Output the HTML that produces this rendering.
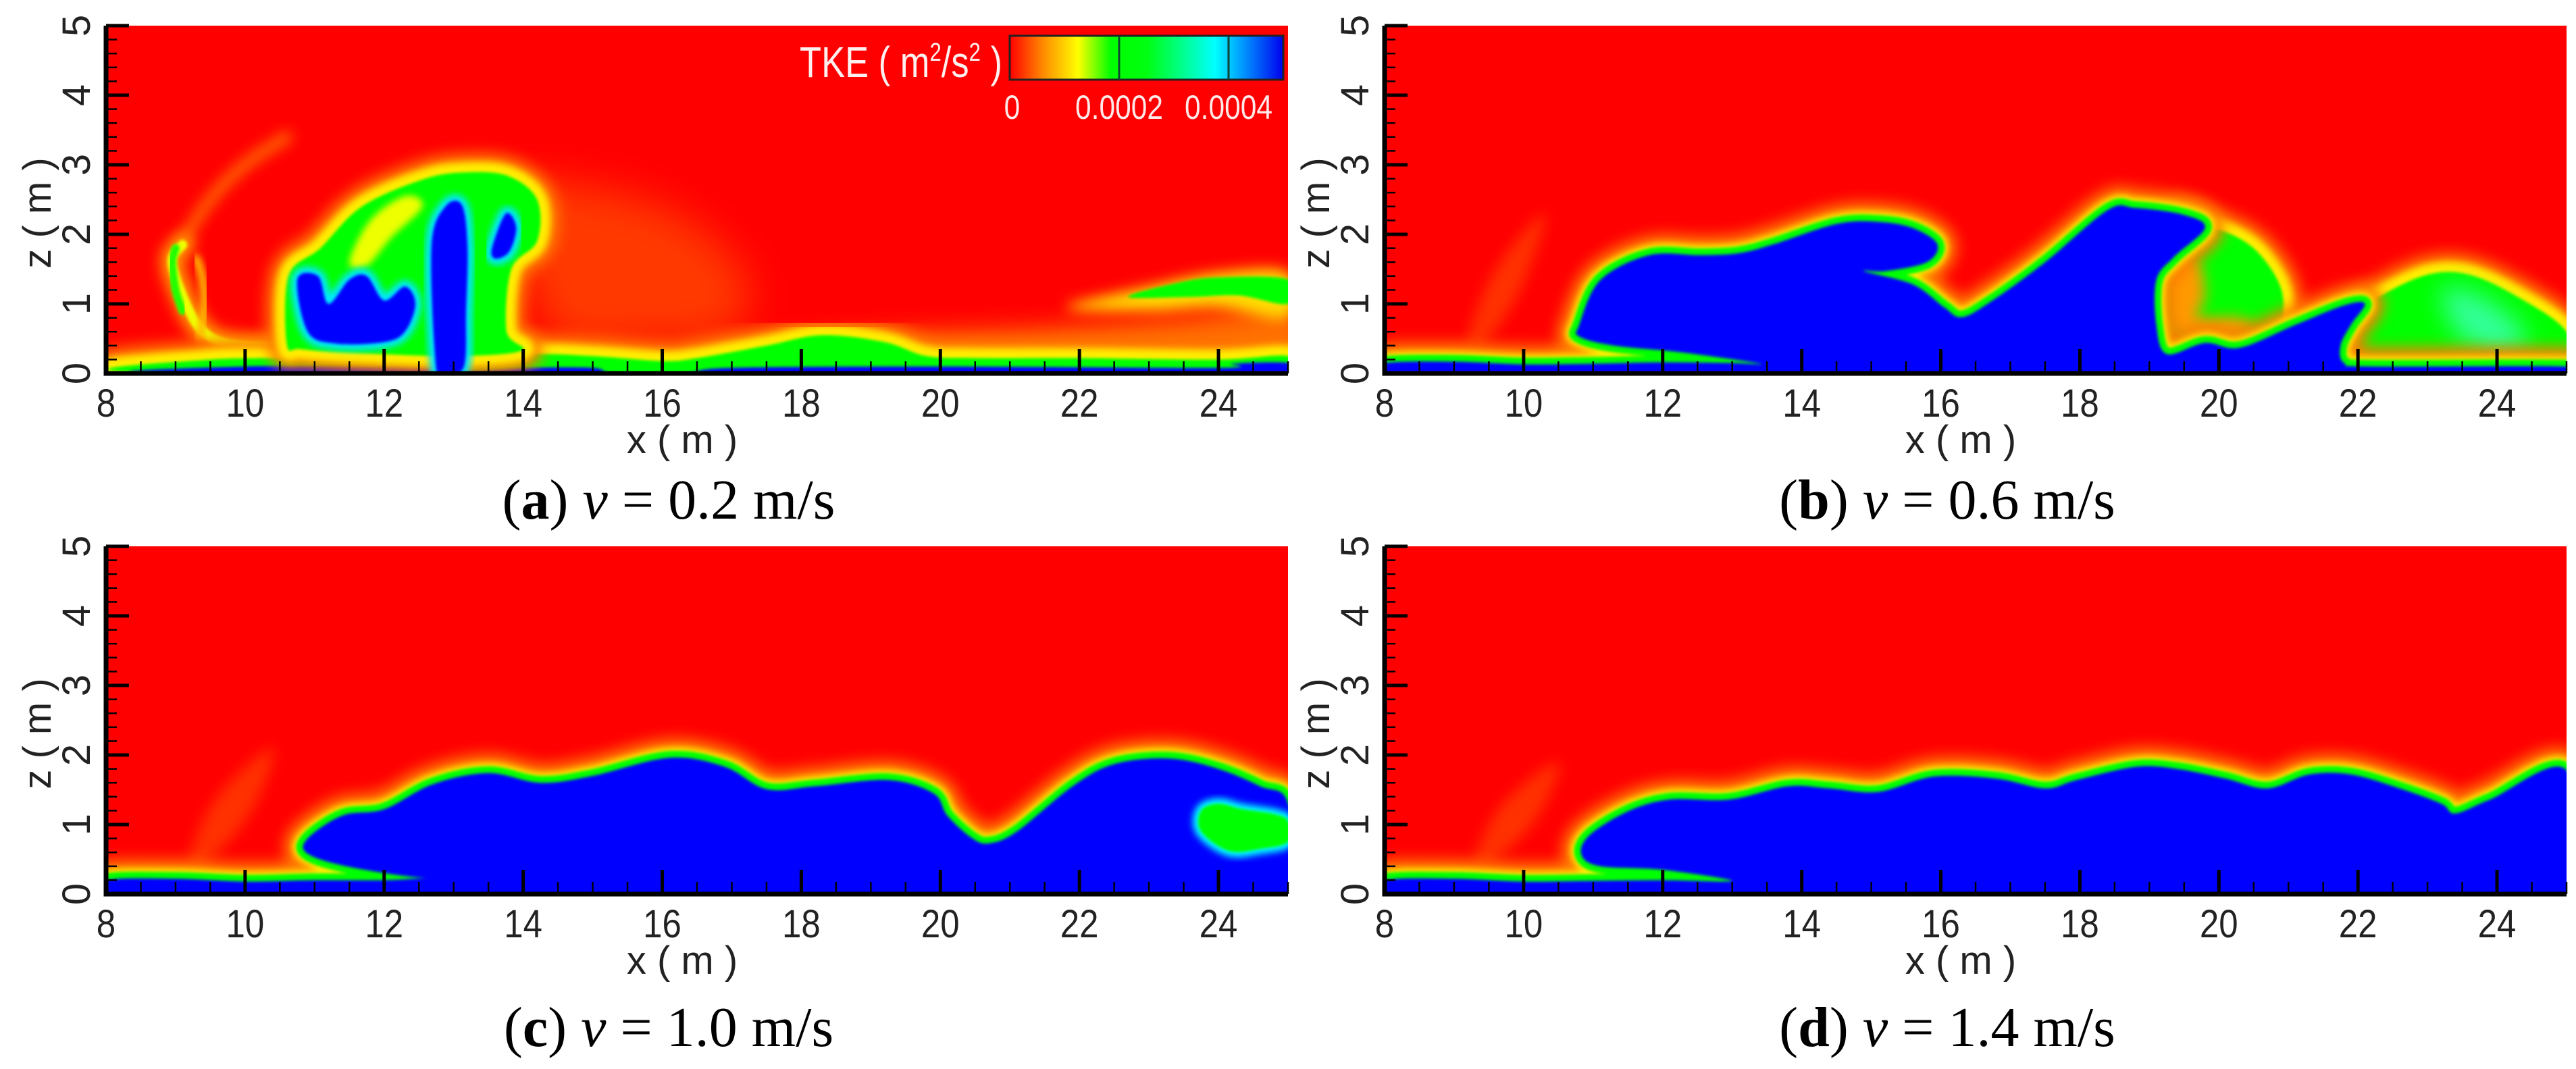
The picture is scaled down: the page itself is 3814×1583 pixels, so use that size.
<!DOCTYPE html>
<html>
<head>
<meta charset="utf-8">
<style>
html,body{margin:0;padding:0;background:#fff;}
svg{display:block;}
.tick{font-family:"Liberation Sans",Arial,sans-serif;font-size:58px;fill:#222;}
.cap{font-family:"Liberation Serif","Times New Roman",serif;font-size:84px;fill:#000;}
</style>
</head>
<body>
<svg id="fig" xmlns="http://www.w3.org/2000/svg" width="3814" height="1583" viewBox="0 0 3814 1583">
<defs>
<filter id="b2" x="-20%" y="-20%" width="140%" height="140%"><feGaussianBlur stdDeviation="2"/></filter>
<filter id="b5" x="-20%" y="-20%" width="140%" height="140%"><feGaussianBlur stdDeviation="5"/></filter>
<filter id="b10" x="-30%" y="-30%" width="160%" height="160%"><feGaussianBlur stdDeviation="10"/></filter>
<filter id="b18" x="-40%" y="-40%" width="180%" height="180%"><feGaussianBlur stdDeviation="18"/></filter>
<filter id="b30" x="-50%" y="-50%" width="200%" height="200%"><feGaussianBlur stdDeviation="30"/></filter>
<linearGradient id="cbgrad" x1="0" y1="0" x2="1" y2="0">
<stop offset="0" stop-color="#ff0000"/>
<stop offset="0.12" stop-color="#ff8800"/>
<stop offset="0.25" stop-color="#ffff00"/>
<stop offset="0.37" stop-color="#00ff00"/>
<stop offset="0.5" stop-color="#00ff10"/>
<stop offset="0.75" stop-color="#00ffff"/>
<stop offset="0.85" stop-color="#0099ff"/>
<stop offset="1" stop-color="#0000ee"/>
</linearGradient>
</defs>
</svg>
<script>
// ---------- data ----------
const xTicks = [8,10,12,14,16,18,20,22,24];
const zTicks = [0,1,2,3,4,5];
const cbTicks = [0,0.0002,0.0004];
const cbLabels = ["0","0.0002","0.0004"];
const captionLetters = ["a","b","c","d"];
const captionSpeeds = ["0.2","0.6","1.0","1.4"];

// panel (a) features
const aGlowX = [13.9,14.8,16.2,17.2,17.0,15.8,14.4];
const aGlowZ = [2.6,2.7,2.3,1.4,0.6,0.45,0.6];
const aLoopX = [10.6,9.8,9.4,9.15,8.95,9.1];
const aLoopZ = [0.38,0.42,0.6,1.0,1.6,1.85];
const aLoopGreenX = [9.1,9.0,8.95,9.0];
const aLoopGreenZ = [0.9,1.2,1.6,1.8];
const aArcX = [9.1,9.5,10.0,10.6];
const aArcZ = [1.9,2.5,3.0,3.4];
const aInnerX = [9.35,9.42,9.38,9.3];
const aInnerZ = [0.55,1.0,1.4,1.65];
const aBandX = [9.4,10.5,11.5,12.3,12.3,11.2,10.0,9.5];
const aBandZ = [0.2,0.22,0.22,0.25,0.4,0.38,0.4,0.35];
const aPlumeX = [10.6,10.63,11.08,11.68,12.56,13.16,13.78,14.2,14.2,13.83,13.76,13.98,13.0,11.5,10.8];
const aPlumeZ = [0.42,1.41,1.8,2.4,2.79,2.89,2.84,2.5,1.9,1.5,0.61,0.33,0.25,0.3,0.35];
const aStreakX = [11.5,11.8,12.3,12.55,12.1,11.75];
const aStreakZ = [1.6,2.2,2.55,2.4,1.95,1.55];
const aBlobX = [10.75,11.05,11.2,11.5,11.75,12.0,12.3,12.45,12.3,12.0,11.3,10.9];
const aBlobZ = [1.35,1.4,1.0,1.35,1.4,1.05,1.25,1.0,0.6,0.45,0.43,0.6];
const aStemX = [12.75,12.68,12.88,13.12,13.2,13.18,13.15,12.9];
const aStemZ = [0.05,1.82,2.4,2.42,1.82,0.9,0.1,0.0];
const aEyeX = [13.55,13.75,13.9,13.8,13.6];
const aEyeZ = [1.8,2.3,2.1,1.75,1.65];
const aFloorX = [9.2,9.5,12,14,15,16,16.5,17.5,18.3,19.2,19.8,20.5,22,24,25,25];
const aFloorZ = [0,0.2,0.22,0.28,0.25,0.18,0.22,0.4,0.55,0.45,0.25,0.22,0.22,0.2,0.25,0];
const aBedX = [9.4,10,12.5,12.7,13.3,14,15,15.3,16.3,17,20,24,24.2,25,25];
const aBedZ = [0,0.1,0.1,0.04,0.04,0.08,0.08,0,0,0.08,0.1,0.08,0.14,0.15,0];
const aLowX = [16.5,19,21.5,23.5,25,25,21,17];
const aLowZ = [0.35,0.55,0.65,0.8,0.95,0.25,0.25,0.25];
const aWakeX = [21.8,23,24,25,25,24,23];
const aWakeZ = [0.95,1.25,1.45,1.45,0.8,0.95,0.9];
const aBandGX = [22.7,23.4,24,25,25,24.3,23.6];
const aBandGZ = [1.1,1.3,1.38,1.35,1.0,1.12,1.1];

// panel (b)
const bFaintX = [9.2,9.6,10.3,10.0,9.5];
const bFaintZ = [0.5,1.5,2.3,1.3,0.5];
const bBodyX = [8,8,9,10,11,12,13.0,13.4,12.3,11.3,10.8,10.8,11.1,11.8,12.55,13.1,13.6,14.5,15.1,15.6,15.95,15.8,15.2,14.9,15.6,16.05,16.3,16.7,17.5,18.4,18.8,19.5,19.8,19.35,19.1,19.1,19.25,19.8,20.3,21.1,21.8,22.1,21.9,21.75,21.8,22.2,25,25];
const bBodyZ = [0,0.15,0.17,0.13,0.14,0.16,0.15,0.14,0.3,0.4,0.53,0.7,1.34,1.7,1.7,1.73,1.86,2.15,2.18,2.09,1.86,1.6,1.47,1.47,1.28,0.95,0.81,1.02,1.6,2.35,2.38,2.28,2.09,1.67,1.34,0.7,0.28,0.44,0.37,0.7,0.98,1.0,0.7,0.4,0.15,0.1,0.1,0];
const bRingX = [19.3,19.9,20.5,20.9,20.85,20.4,19.6,19.2];
const bRingZ = [2.15,2.1,1.8,1.2,0.6,0.42,0.45,0.6];
const bCoreX = [19.25,19.7,19.8,19.7,20.3,20.5,19.6,19.25];
const bCoreZ = [1.7,1.6,1.1,0.8,0.8,0.55,0.5,0.7];
const bDomeX = [21.7,21.75,22.3,23.0,23.6,24.3,25,25,22.2];
const bDomeZ = [0.3,0.7,1.1,1.42,1.42,1.1,0.6,0.05,0.05];
const bCyanX = [23.2,23.8,24.4,24.2,23.5];
const bCyanZ = [1.2,1.1,0.6,0.3,0.5];

// panel (c)
const cFaintX = [9.2,9.6,10.4,10.1,9.5];
const cFaintZ = [0.5,1.4,2.1,1.2,0.5];
const cBodyX = [8,8,9,10,11,12,12.6,13.4,12.6,11.5,10.9,10.9,11.4,12.0,12.7,13.5,14.25,15.0,16.1,16.9,17.5,18.2,19.25,19.9,20.1,20.45,20.7,21.1,21.9,22.5,23.3,24.0,24.6,25,25];
const cBodyZ = [0,0.2,0.22,0.18,0.2,0.2,0.23,0.26,0.23,0.39,0.58,0.8,1.13,1.22,1.58,1.74,1.6,1.7,1.96,1.83,1.51,1.55,1.64,1.45,1.13,0.81,0.73,0.9,1.55,1.87,1.95,1.8,1.55,1.3,0];
const cCurlX = [23.75,24.0,24.35,24.8,25,25,24.6,24.15,23.75];
const cCurlZ = [1.2,1.3,1.22,1.15,1.05,0.75,0.65,0.62,0.9];

// panel (d)
const dFaintX = [9.3,9.7,10.5,10.2,9.6];
const dFaintZ = [0.5,1.3,1.9,1.1,0.5];
const dBodyX = [8,8,9,10,11,12,13.0,12.0,11.1,10.83,10.95,11.5,12.1,12.96,13.8,14.4,15.1,15.9,16.8,17.5,17.95,18.8,19.4,20.1,20.7,21.3,21.9,22.6,23.2,23.4,23.9,25,25];
const dBodyZ = [0,0.2,0.22,0.18,0.19,0.2,0.19,0.35,0.4,0.57,0.85,1.19,1.36,1.36,1.55,1.52,1.47,1.69,1.66,1.52,1.64,1.83,1.8,1.66,1.52,1.72,1.72,1.52,1.3,1.16,1.36,1.78,0];

// ---------- layout ----------
const svg = document.getElementById('fig');
const NS = 'http://www.w3.org/2000/svg';
const PW = 1750, PH = 515;
const panels = [{id:'a',left:157,top:38,cap:990,capY:768},{id:'b',left:2050,top:38,cap:2883,capY:768},{id:'c',left:157,top:809,cap:990,capY:1549},{id:'d',left:2050,top:809,cap:2883,capY:1549}];

function mk(tag, attrs, parent){
  const e = document.createElementNS(NS, tag);
  for (const k in attrs) e.setAttribute(k, attrs[k]);
  (parent||svg).appendChild(e);
  return e;
}
function scales(p){
  return {sx: x => p.left + (x-8)/17*PW, sz: z => p.top + PH - z/5*PH};
}
function smoothPath(xs, zs, s, closed){
  const pts = xs.map((x,i)=>[s.sx(x), s.sz(zs[i])]);
  const n = pts.length;
  const get = i => closed ? pts[(i+n)%n] : pts[Math.max(0,Math.min(n-1,i))];
  let d = 'M'+pts[0][0].toFixed(1)+','+pts[0][1].toFixed(1);
  const last = closed ? n : n-1;
  for (let i=0;i<last;i++){
    const p0=get(i-1),p1=get(i),p2=get(i+1),p3=get(i+2);
    const c1=[p1[0]+(p2[0]-p0[0])/6, p1[1]+(p2[1]-p0[1])/6];
    const c2=[p2[0]-(p3[0]-p1[0])/6, p2[1]-(p3[1]-p1[1])/6];
    d += 'C'+c1[0].toFixed(1)+','+c1[1].toFixed(1)+' '+c2[0].toFixed(1)+','+c2[1].toFixed(1)+' '+p2[0].toFixed(1)+','+p2[1].toFixed(1);
  }
  if (closed) d += 'Z';
  return d;
}

function fillShape(g, xs, zs, s, color, filt, op, name){
  const e = mk('path', {d: smoothPath(xs,zs,s,true), fill: color, opacity: op||1}, g);
  if (filt) e.setAttribute('filter', 'url(#'+filt+')');
  
  
  return e;
}
function lineShape(g, xs, zs, s, color, w, filt, name){
  const e = mk('path', {d: smoothPath(xs,zs,s,false), fill:'none', stroke: color, 'stroke-width': w, 'stroke-linecap':'round'}, g);
  if (filt) e.setAttribute('filter', 'url(#'+filt+')');
  
  
  return e;
}
function haloShape(g, xs, zs, s, inner, name){
  const d = smoothPath(xs,zs,s,true);
  const h1 = mk('path', {d:d, fill:'#ff7a00', stroke:'#ff7a00', 'stroke-width':56, filter:'url(#b10)', 'stroke-linejoin':'round'}, g);
  
  
  const h2 = mk('path', {d:d, fill:'#ffee00', stroke:'#ffee00', 'stroke-width':30, filter:'url(#b5)', 'stroke-linejoin':'round'}, g);
  
  
  if (inner === 'blue'){
    const h3 = mk('path', {d:d, fill:'#00ff00', stroke:'#00ff00', 'stroke-width':20, filter:'url(#b2)', 'stroke-linejoin':'round'}, g);
    
    
    const f = mk('path', {d:d, fill:'#0000ff', filter:'url(#b2)'}, g);
    
    
  } else {
    const f = mk('path', {d:d, fill:'#00ff00', filter:'url(#b2)'}, g);
    
    
  }
}
function blueCore(g, xs, zs, s, name){
  const d = smoothPath(xs,zs,s,true);
  const c = mk('path', {d:d, fill:'#00ffff', stroke:'#00e8ff', 'stroke-width':18, filter:'url(#b5)'}, g);
  
  
  const f = mk('path', {d:d, fill:'#0000ff', filter:'url(#b2)'}, g);
  
  
}

panels.forEach((p, idx) => {
  const s = scales(p);
  const g = mk('g', {});
  
  
  const clip = mk('clipPath', {id:'clip'+p.id});
  mk('rect', {x:p.left, y:p.top, width:PW, height:PH}, clip);
  const field = mk('g', {'clip-path':'url(#clip'+p.id+')'}, g);
  
  
  const bg = mk('rect', {x:p.left, y:p.top, width:PW, height:PH, fill:'#ff0000'}, field);
  
  

  if (p.id === 'a'){
    fillShape(field, aGlowX, aGlowZ, s, '#ff6000', 'b30', 0.6, 'wake-glow');
    lineShape(field, aArcX, aArcZ, s, '#ff7000', 16, 'b10', 'left-loop-arc');
    lineShape(field, aLoopX, aLoopZ, s, '#ff9900', 34, 'b10', 'left-loop-halo');
    lineShape(field, aLoopX, aLoopZ, s, '#eeff00', 14, 'b2', 'left-loop');
    lineShape(field, aLoopGreenX, aLoopGreenZ, s, '#20ff00', 12, 'b2', 'left-loop-green');
    lineShape(field, aInnerX, aInnerZ, s, '#ffbb00', 12, 'b5', 'left-loop-inner');
    fillShape(field, aBandX, aBandZ, s, '#ffcc00', 'b5', 1, 'front-band');
    fillShape(field, aLowX, aLowZ, s, '#ff8800', 'b18', 0.8, 'downstream-low-layer');
    fillShape(field, aWakeX, aWakeZ, s, '#ffdd00', 'b10', 1, 'downstream-wake');
    fillShape(field, aBandGX, aBandGZ, s, '#00ff00', 'b2', 1, 'downstream-green-band');
    haloShape(field, aFloorX, aFloorZ, s, 'green', 'floor-layer');
    fillShape(field, aBedX, aBedZ, s, '#0000ff', 'b2', 1, 'bed-layer');
    haloShape(field, aPlumeX, aPlumeZ, s, 'green', 'plume-envelope');
    fillShape(field, aStreakX, aStreakZ, s, '#eeff00', 'b5', 1, 'plume-yellow-streak');
    blueCore(field, aBlobX, aBlobZ, s, 'plume-core-left');
    blueCore(field, aStemX, aStemZ, s, 'plume-stem');
    blueCore(field, aEyeX, aEyeZ, s, 'plume-eye');
  } else {
    const bodyX = p.id==='b'?bBodyX:(p.id==='c'?cBodyX:dBodyX);
    const bodyZ = p.id==='b'?bBodyZ:(p.id==='c'?cBodyZ:dBodyZ);
    const fx = p.id==='b'?bFaintX:(p.id==='c'?cFaintX:dFaintX);
    const fz = p.id==='b'?bFaintZ:(p.id==='c'?cFaintZ:dFaintZ);
    fillShape(field, fx, fz, s, '#ff5a00', 'b10', 0.55, 'faint-wake');
    if (p.id === 'b'){
      haloShape(field, bRingX, bRingZ, s, 'green', 'vortex-ring');
      fillShape(field, bCoreX, bCoreZ, s, '#ff9a00', 'b10', 1, 'vortex-core');
      haloShape(field, bDomeX, bDomeZ, s, 'green', 'head-dome');
      fillShape(field, bCyanX, bCyanZ, s, '#40ffc0', 'b18', 0.8, 'head-dome-cyan');
    }
    haloShape(field, bodyX, bodyZ, s, 'blue', 'gravity-current-body');
    if (p.id === 'c'){
      const d = smoothPath(cCurlX, cCurlZ, s, true);
      const ce = mk('path', {d:d, fill:'#00ffff', stroke:'#00ffff', 'stroke-width':16, filter:'url(#b5)'}, field);
      
      
      fillShape(field, cCurlX, cCurlZ, s, '#00ff00', 'b2', 1, 'head-curl');
    }
  }

  // axes
  const ax = mk('g', {}, g);
  
  
  for (let x = 8; x <= 25.001; x += 0.5){
    const major = Math.abs(x/2 - Math.round(x/2)) < 1e-6;
    const t = mk('line', {x1:s.sx(x), x2:s.sx(x), y1:s.sz(0), y2:s.sz(0)-(major?36:18), stroke:'#000', 'stroke-width': major?5:2.5}, ax);
    
    
  }
  for (let k = 0; k <= 25; k++){
    const z = k*0.2;
    const major = k % 5 === 0;
    const t = mk('line', {x1:s.sx(8), x2:s.sx(8)+(major?34:16), y1:s.sz(z), y2:s.sz(z), stroke:'#000', 'stroke-width': major?5:2.5}, ax);
    
    
  }
  const axl = mk('path', {d:'M'+s.sx(8)+','+s.sz(5)+'V'+s.sz(0)+'H'+s.sx(25), fill:'none', stroke:'#000', 'stroke-width':7}, ax);
  
  

  xTicks.forEach(v => {
    const t = mk('text', {x:s.sx(v), y:s.sz(0)+64, 'text-anchor':'middle', class:'tick', transform:'translate('+s.sx(v)+',0) scale(0.88,1) translate('+(-s.sx(v))+',0)'}, ax);
    t.textContent = v;
    
    
  });
  zTicks.forEach(v => {
    const cx = s.sx(8)-44, cy = s.sz(v);
    const t = mk('text', {x:cx, y:cy+20, 'text-anchor':'middle', class:'tick', transform:'rotate(-90 '+cx+' '+cy+')'}, ax);
    t.textContent = v;
    
    
  });
  const xt = mk('text', {x:p.left+PW/2-22, y:p.top+PH+118, 'text-anchor':'middle', class:'tick', 'font-size':'62'}, ax);
  xt.textContent = 'x ( m )';
  
  
  const zx = p.left-102, zy = p.top+PH/2+20;
  const zt = mk('text', {x:zx, y:zy+20, 'text-anchor':'middle', class:'tick', 'font-size':'62', transform:'rotate(-90 '+zx+' '+zy+')'}, ax);
  zt.textContent = 'z ( m )';
  
  

  // caption
  const cap = mk('text', {x:p.cap, y:p.capY, 'text-anchor':'middle', class:'cap'}, g);
  
  
  const s1 = mk('tspan', {}, cap); s1.textContent = '(';
  const s2 = mk('tspan', {'font-weight':'bold'}, cap); s2.textContent = captionLetters[idx];
  const s3 = mk('tspan', {}, cap); s3.textContent = ') ';
  const s4 = mk('tspan', {'font-style':'italic'}, cap); s4.textContent = 'v';
  const s5 = mk('tspan', {}, cap); s5.textContent = ' = ' + captionSpeeds[idx] + ' m/s';
});

// ---------- colorbar (panel a) ----------
const cbL = 1495, cbR = 1900, cbT = 53, cbB = 118, cbMax = 0.0005;
const cbX = v => cbL + v/cbMax*(cbR-cbL);
const cb = mk('g', {});


const cbr = mk('rect', {x:cbL, y:cbT, width:cbR-cbL, height:cbB-cbT, fill:'url(#cbgrad)', stroke:'#222', 'stroke-width':3}, cb);


cbTicks.forEach((v,i) => {
  if (v > 0){
    const l = mk('line', {x1:cbX(v), x2:cbX(v), y1:cbT, y2:cbB, stroke:'#143', 'stroke-width':3}, cb);
    
    
  }
  const t = mk('text', {x:cbX(v)+(v===0?4:0), y:176, 'text-anchor':'middle', 'font-family':'Liberation Sans, sans-serif', 'font-size':'50', fill:'#ffe8e8', transform:'translate('+cbX(v)+',0) scale(0.85,1) translate('+(-cbX(v))+',0)'}, cb);
  t.textContent = cbLabels[i];
  
  
});
const tk = mk('text', {x:1484, y:114, 'text-anchor':'end', 'font-family':'Liberation Sans, sans-serif', 'font-size':'64', fill:'#fff0f0', transform:'translate(1484,0) scale(0.82,1) translate(-1484,0)'}, cb);


const k1 = mk('tspan', {}, tk); k1.textContent = 'TKE ( m';
const k2 = mk('tspan', {dy:'-24', 'font-size':'38'}, tk); k2.textContent = '2';
const k3 = mk('tspan', {dy:'24'}, tk); k3.textContent = '/s';
const k4 = mk('tspan', {dy:'-24', 'font-size':'38'}, tk); k4.textContent = '2';
const k5 = mk('tspan', {dy:'24'}, tk); k5.textContent = ' )';
</script>
</body>
</html>
